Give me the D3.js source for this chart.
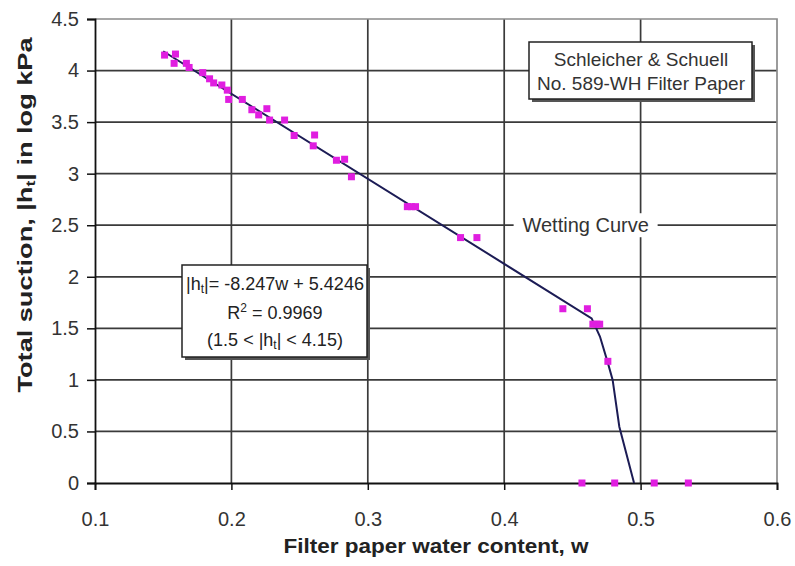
<!DOCTYPE html>
<html lang="en">
<head>
  <meta charset="UTF-8">
  <title>Filter paper calibration curve</title>
  <script src="https://d3js.org/d3.v7.min.js"></script>
  <style>
    body { margin: 0; background: #fff; }
    svg text { font-family: "Liberation Sans", Arial, sans-serif; }
  </style>
</head>
<body>
<svg id="chart" width="795" height="566"></svg>
<script>
  // Points mesurés (teneur en eau w, succion |ht| en log kPa)
  const wPoints = [0.151, 0.159, 0.158, 0.167, 0.169, 0.179, 0.184, 0.187, 0.193, 0.197,
                   0.198, 0.208, 0.215, 0.226, 0.220, 0.228, 0.239, 0.246, 0.261, 0.260,
                   0.277, 0.283, 0.288, 0.329, 0.332, 0.335, 0.368, 0.380, 0.443, 0.461,
                   0.465, 0.468, 0.470, 0.476, 0.457, 0.481, 0.510, 0.535];
  const hPoints = [4.15, 4.16, 4.07, 4.07, 4.03, 3.98, 3.92, 3.88, 3.86, 3.81,
                   3.72, 3.72, 3.62, 3.63, 3.57, 3.52, 3.52, 3.37, 3.375, 3.27,
                   3.13, 3.14, 2.97, 2.68, 2.68, 2.68, 2.38, 2.38, 1.69, 1.69,
                   1.54, 1.54, 1.54, 1.18, 0, 0, 0, 0];

  // Courbe de mouillage
  const curveW = [0.15, 0.4641, 0.4702, 0.4761, 0.4795, 0.4844, 0.4952];
  const curveH = [4.187, 1.597, 1.42, 1.16, 1.0, 0.546, 0];

  const xTicks = [0.1, 0.2, 0.3, 0.4, 0.5, 0.6];
  const yTicks = [0, 0.5, 1, 1.5, 2, 2.5, 3, 3.5, 4, 4.5];

  const svg = d3.select("#chart");
  const x = d3.scaleLinear().domain([0.1, 0.6]).range([95, 777]);
  const y = d3.scaleLinear().domain([0, 4.5]).range([483, 19]);

  // Grille
  svg.append("g").selectAll("line")
    .data(xTicks.slice(1, -1)).join("line")
      .attr("x1", d => x(d)).attr("x2", d => x(d))
      .attr("y1", y(4.5)).attr("y2", y(0))
      .attr("stroke", "#3a3a3a").attr("stroke-width", 1.7);
  svg.append("g").selectAll("line")
    .data(yTicks.slice(1, -1)).join("line")
      .attr("x1", x(0.1)).attr("x2", x(0.6))
      .attr("y1", d => y(d)).attr("y2", d => y(d))
      .attr("stroke", "#3a3a3a").attr("stroke-width", 1.7);

  // Bord du graphique (haut et droite)
  svg.append("path")
    .attr("d", `M${x(0.1)},${y(4.5)}H${x(0.6)}V${y(0)}`)
    .attr("fill", "none").attr("stroke", "#8a8a8a").attr("stroke-width", 1.7);

  // Axes
  const xAxis = svg.append("g")
    .attr("transform", `translate(0,${y(0)})`)
    .call(d3.axisBottom(x).tickValues(xTicks).tickSize(7).tickPadding(22).tickFormat(d3.format(".1f")));
  const yAxis = svg.append("g")
    .attr("transform", `translate(${x(0.1)},0)`)
    .call(d3.axisLeft(y).tickValues(yTicks).tickSize(8).tickPadding(8).tickFormat(d => d));
  [xAxis, yAxis].forEach(g => {
    g.select(".domain").attr("stroke", "#111").attr("stroke-width", 1.8);
    g.selectAll(".tick line").attr("stroke", "#111").attr("stroke-width", 1.5);
    g.selectAll(".tick text").attr("fill", "#333").style("font-size", "20px");
  });

  // Libellé "Wetting Curve" sur fond blanc
  const wc = svg.append("g").attr("transform", `translate(${x(0.4597)},${y(2.5)})`);
  wc.append("rect").attr("x", -72).attr("y", -12).attr("width", 144).attr("height", 24).attr("fill", "#fff");
  wc.append("text").attr("text-anchor", "middle").attr("dy", "0.35em")
    .attr("fill", "#333").style("font-size", "20px").text("Wetting Curve");

  // Courbe
  const line = d3.line().x(d => x(d[0])).y(d => y(d[1]));
  svg.append("path")
    .datum(curveW.map((w, i) => [w, curveH[i]]))
    .attr("d", line)
    .attr("fill", "none").attr("stroke", "#1c1c55").attr("stroke-width", 2);

  // Points
  const sz = 7;
  svg.append("g").selectAll("rect")
    .data(wPoints.map((w, i) => [w, hPoints[i]])).join("rect")
      .attr("x", d => x(d[0]) - sz / 2).attr("y", d => y(d[1]) - sz / 2)
      .attr("width", sz).attr("height", sz)
      .attr("fill", "#e01ee0");

  // Boîtes de texte avec ombre
  function box(x0, y0, w, h) {
    svg.append("rect").attr("x", x0 + 3).attr("y", y0 + 3).attr("width", w).attr("height", h).attr("fill", "#555");
    svg.append("rect").attr("x", x0).attr("y", y0).attr("width", w).attr("height", h)
      .attr("fill", "#fff").attr("stroke", "#222").attr("stroke-width", 1.5);
  }

  box(529, 42, 223, 57);
  svg.append("text").attr("x", 641).attr("y", 66).attr("text-anchor", "middle")
    .attr("fill", "#333").style("font-size", "19px").text("Schleicher & Schuell");
  svg.append("text").attr("x", 641).attr("y", 90).attr("text-anchor", "middle")
    .attr("fill", "#333").style("font-size", "19px").text("No. 589-WH Filter Paper");

  box(182, 265, 185, 92);
  const eq1 = svg.append("text").attr("x", 275).attr("y", 290).attr("text-anchor", "middle")
    .attr("fill", "#222").style("font-size", "18px");
  eq1.append("tspan").text("|h");
  eq1.append("tspan").attr("baseline-shift", "-25%").style("font-size", "12px").text("t");
  eq1.append("tspan").text("|= -8.247w + 5.4246");
  const eq2 = svg.append("text").attr("x", 275).attr("y", 319).attr("text-anchor", "middle")
    .attr("fill", "#222").style("font-size", "18px");
  eq2.append("tspan").text("R");
  eq2.append("tspan").attr("baseline-shift", "super").style("font-size", "12px").text("2");
  eq2.append("tspan").text(" = 0.9969");
  const eq3 = svg.append("text").attr("x", 275).attr("y", 346).attr("text-anchor", "middle")
    .attr("fill", "#222").style("font-size", "18px");
  eq3.append("tspan").text("(1.5 < |h");
  eq3.append("tspan").attr("baseline-shift", "-25%").style("font-size", "12px").text("t");
  eq3.append("tspan").text("| < 4.15)");

  // Titres des axes
  svg.append("text").attr("x", 436).attr("y", 553).attr("text-anchor", "middle")
    .attr("fill", "#222").style("font-size", "20px").style("font-weight", "bold")
    .attr("textLength", 305).attr("lengthAdjust", "spacingAndGlyphs")
    .text("Filter paper water content, w");
  const yt = svg.append("text").attr("transform", "translate(32,215) rotate(-90)")
    .attr("text-anchor", "middle").attr("fill", "#222")
    .style("font-size", "20px").style("font-weight", "bold")
    .attr("textLength", 355).attr("lengthAdjust", "spacingAndGlyphs");
  yt.append("tspan").text("Total suction, |h");
  yt.append("tspan").attr("baseline-shift", "-25%").style("font-size", "13px").text("t");
  yt.append("tspan").text("| in log kPa");
</script>
</body>
</html>
